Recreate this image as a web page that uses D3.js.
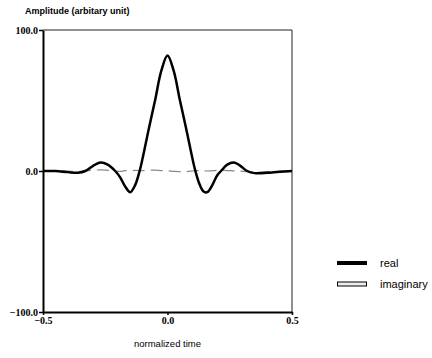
<!DOCTYPE html>
<html>
<head>
<meta charset="utf-8">
<script src="https://cdn.jsdelivr.net/npm/d3@7"></script>
<style>
  body { margin: 0; background: #fff; }
  text { fill: #000; }
</style>
</head>
<body>
<script>
// values
var time = [-0.5, -0.45, -0.4, -0.36, -0.33, -0.3, -0.27, -0.24, -0.21, -0.19, -0.17, -0.15, -0.13,
            -0.112, -0.1, -0.075, -0.05, -0.025, 0, 0.025, 0.05, 0.075, 0.1, 0.112, 0.13, 0.145,
            0.16, 0.18, 0.2, 0.215, 0.24, 0.267, 0.29, 0.32, 0.35, 0.4, 0.45, 0.5];
var realVals = [0, 0, -0.8, -1.2, 0, 3.5, 6, 4.5, 0, -4.5, -11, -15, -10,
                0, 9, 30, 50, 71, 82, 71, 50, 30, 9, 0, -10, -14.5,
                -15, -10, -3, 0, 4.5, 6, 4, 0, -1.5, -1.3, -0.5, 0];
var imagVals = [0, 0.3, 0, -0.4, 0, 0.5, 0.8, 0.5, 0, -0.3, 0.2, 0, 0.4,
                0.3, 0.2, 0.5, 0.6, 0.3, 0.2, -0.2, -0.5, -0.4, 0, 0.2, 0.3, 0.2,
                0, 0.2, 0.4, 0.5, 0.3, 0.1, 0, -0.5, -0.8, -0.5, -0.2, 0];
var xTicks = [-0.5, 0.0, 0.5];
var yTicks = [-100, 0, 100];
var seriesNames = ["real", "imaginary"];

var width = 432, height = 358;
var margin = {left: 43, right: 140, top: 30, bottom: 46};

var svg = d3.select("body").append("svg")
    .attr("width", width)
    .attr("height", height);

var x = d3.scaleLinear()
    .domain([-0.5, 0.5])
    .range([margin.left, width - margin.right]);

var y = d3.scaleLinear()
    .domain([-100, 100])
    .range([height - margin.bottom, margin.top]);

var xAxis = d3.axisBottom(x)
    .tickValues(xTicks)
    .tickFormat(d3.format(".1f"))
    .tickSizeInner(3)
    .tickSizeOuter(0);

var yAxis = d3.axisLeft(y)
    .tickValues(yTicks)
    .tickFormat(d3.format(".1f"))
    .tickSizeInner(4)
    .tickSizeOuter(0);

// frame: thin top and right
svg.append("line")
    .attr("x1", x(-0.5)).attr("x2", x(0.5))
    .attr("y1", y(100)).attr("y2", y(100))
    .style("stroke", "#222").style("stroke-width", 1);
svg.append("line")
    .attr("x1", x(0.5)).attr("x2", x(0.5))
    .attr("y1", y(100)).attr("y2", y(-100))
    .style("stroke", "#222").style("stroke-width", 1);

var gx = svg.append("g")
    .attr("class", "x axis")
    .attr("transform", "translate(0," + y(-100) + ")")
    .call(xAxis);

var gy = svg.append("g")
    .attr("class", "y axis")
    .attr("transform", "translate(" + x(-0.5) + ",0)")
    .call(yAxis);

[gx, gy].forEach(function (g) {
    g.select(".domain").style("stroke", "#000").style("stroke-width", 2);
    g.selectAll(".tick line").style("stroke", "#000").style("stroke-width", 1.5);
    g.selectAll(".tick text")
        .style("font-family", "'Liberation Serif', serif")
        .style("font-weight", "bold")
        .style("font-size", "10px")
        .style("fill", "#000");
});
gx.selectAll(".tick text").attr("dy", "0.6em");
gy.selectAll(".tick text").attr("x", -5);

var line = d3.line()
    .x(function (d) { return x(d[0]); })
    .y(function (d) { return y(d[1]); })
    .curve(d3.curveCatmullRom);

svg.append("path")
    .attr("class", "imaginary")
    .attr("d", line(d3.zip(time, imagVals)))
    .style("stroke", "#888")
    .style("stroke-width", 1.2)
    .style("stroke-dasharray", "12,6")
    .style("fill", "none");

svg.append("path")
    .attr("class", "real")
    .attr("d", line(d3.zip(time, realVals)))
    .style("stroke", "#000")
    .style("stroke-width", 2.5)
    .style("fill", "none");

// axis titles
svg.append("text")
    .attr("x", 25).attr("y", 14)
    .style("font-family", "'Liberation Sans', Arial, sans-serif")
    .style("font-weight", "bold")
    .style("font-size", "9px")
    .text("Amplitude (arbitary unit)");

svg.append("text")
    .attr("x", x(0)).attr("y", 347)
    .attr("text-anchor", "middle")
    .style("font-family", "'Liberation Sans', Arial, sans-serif")
    .style("font-size", "9.5px")
    .text("normalized time");

// legend
var legend = svg.append("g").attr("transform", "translate(337,263)");
seriesNames.forEach(function (name, i) {
    var row = legend.append("g").attr("transform", "translate(0," + (i * 21) + ")");
    if (i === 0) {
        row.append("rect").attr("x", 0).attr("y", -2).attr("width", 30).attr("height", 4)
            .style("fill", "#000");
    } else {
        row.append("rect").attr("x", 0.5).attr("y", -2).attr("width", 29).attr("height", 4)
            .style("fill", "#eee").style("stroke", "#000").style("stroke-width", 1);
    }
    row.append("text")
        .attr("x", 43).attr("y", 4)
        .style("font-family", "'Liberation Sans', Arial, sans-serif")
        .style("font-size", "11px")
        .text(name);
});
</script>
</body>
</html>
